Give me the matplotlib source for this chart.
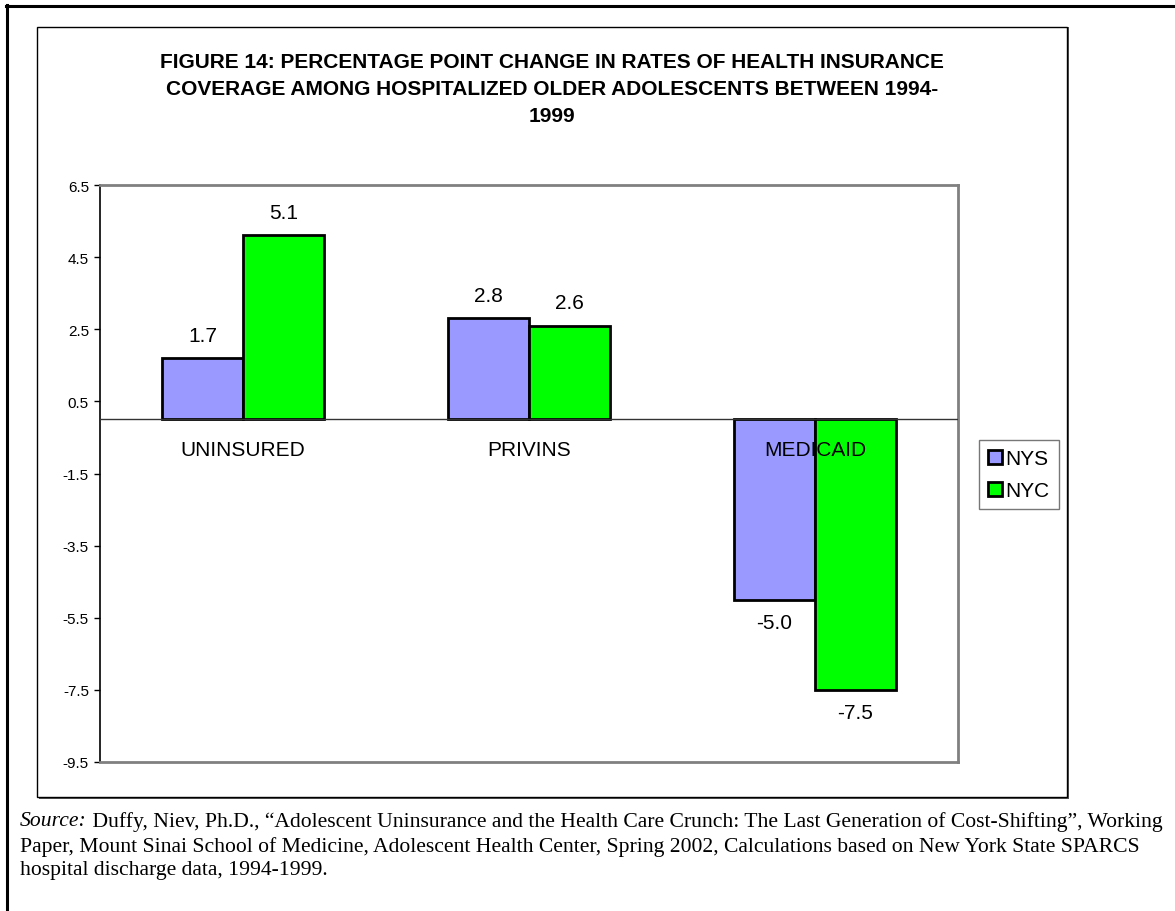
import numpy as np
import matplotlib
matplotlib.use("Agg")
import matplotlib.pyplot as plt
from matplotlib.patches import Rectangle
from matplotlib.lines import Line2D

W, H = 1175, 912

categories = ["UNINSURED", "PRIVINS", "MEDICAID"]
series_names = ["NYS", "NYC"]
nys_values = [1.7, 2.8, -5.0]
nyc_values = [5.1, 2.6, -7.5]
y_ticks = [6.5, 4.5, 2.5, 0.5, -1.5, -3.5, -5.5, -7.5, -9.5]

title = ("FIGURE 14: PERCENTAGE POINT CHANGE IN RATES OF HEALTH INSURANCE\n"
         "COVERAGE AMONG HOSPITALIZED OLDER ADOLESCENTS BETWEEN 1994-\n"
         "1999")
source_rest = [
    " Duffy, Niev, Ph.D., \u201cAdolescent Uninsurance and the Health Care Crunch: The Last Generation of Cost-Shifting\u201d, Working",
    "Paper, Mount Sinai School of Medicine, Adolescent Health Center, Spring 2002, Calculations based on New York State SPARCS",
    "hospital discharge data, 1994-1999.",
]

plt.rcParams["font.family"] = ["Liberation Sans", "DejaVu Sans"]
SERIF = ["Liberation Serif", "DejaVu Serif"]

fig = plt.figure(figsize=(W / 100, H / 100), dpi=100)


def fx(px):
    return px / W


def fy(py):
    return 1 - py / H


# outer page border (top and left only)
fig.add_artist(Line2D([fx(6), 1], [fy(6.5), fy(6.5)], color="black", lw=2.2))
fig.add_artist(Line2D([fx(6.5), fx(6.5)], [fy(6), 0], color="black", lw=2.2))

# chart box with shadow
fig.add_artist(Rectangle((fx(39), fy(800)), fx(1067 - 37), (800 - 28) / H,
                         facecolor="#555555", edgecolor="none", zorder=0))
fig.add_artist(Rectangle((fx(37), fy(798)), fx(1067 - 37), (798 - 28) / H,
                         facecolor="white", edgecolor="black", lw=1.0, zorder=0.5))

fig.text(fx(552), fy(89.5), title, ha="center", va="center", fontsize=15,
         fontweight="bold", linespacing=1.5)

ax = fig.add_axes([fx(100), fy(763), fx(958 - 100), (763 - 186) / H])
ax.set_zorder(2)
ax.patch.set_alpha(0)

x = np.arange(len(categories))
bw = 0.283
b1 = ax.bar(x - bw / 2, nys_values, bw, color="#9999FF", edgecolor="black", lw=2, zorder=2)
b2 = ax.bar(x + bw / 2, nyc_values, bw, color="#00FF00", edgecolor="black", lw=2, zorder=2)

# data labels
for bars in (b1, b2):
    for rect, v in zip(bars, bars.datavalues):
        off = 16.5 if v > 0 else -16.5
        ax.annotate(f"{v:.1f}", (rect.get_x() + rect.get_width() / 2, v),
                    xytext=(0, off), textcoords="offset points", ha="center",
                    va="center", fontsize=15, zorder=4)

ax.axhline(0, color="#333333", lw=1, zorder=3)
for i, c in enumerate(categories):
    ax.annotate(c, (i, 0), xytext=(0, -22), textcoords="offset points",
                ha="center", va="center", fontsize=15, zorder=4)

ax.set_xlim(-0.5, 2.5)
ax.set_ylim(-9.5, 6.5)
ax.set_yticks(y_ticks)
ax.set_yticklabels([f"{t:.1f}" for t in y_ticks], fontsize=11)
ax.set_xticks([])
ax.tick_params(axis="y", direction="out", length=4, width=1, pad=4)
for s in ("top", "right", "bottom"):
    ax.spines[s].set_color("#808080")
    ax.spines[s].set_linewidth(2)
ax.spines["left"].set_color("black")
ax.spines["left"].set_linewidth(1.2)

leg = fig.legend([b1, b2], series_names, loc="upper left",
                 bbox_to_anchor=(fx(979), fy(441)), fontsize=15,
                 handlelength=0.65, handleheight=0.65, handletextpad=0.15,
                 borderpad=0.45, labelspacing=0.6, fancybox=False,
                 borderaxespad=0)
leg.get_frame().set_edgecolor("#555555")
leg.get_frame().set_linewidth(1)

# source note
renderer = fig.canvas.get_renderer()
t0 = fig.text(fx(20), fy(822), "Source:", fontsize=15.6, style="italic",
              family=SERIF, va="center")
bb = t0.get_window_extent(renderer)
fig.text(bb.x1 / W, fy(822), source_rest[0], fontsize=15.6, family=SERIF, va="center")
fig.text(fx(20), fy(847), source_rest[1], fontsize=15.6, family=SERIF, va="center")
fig.text(fx(20), fy(871), source_rest[2], fontsize=15.6, family=SERIF, va="center")

fig.savefig("out.png", dpi=100)
